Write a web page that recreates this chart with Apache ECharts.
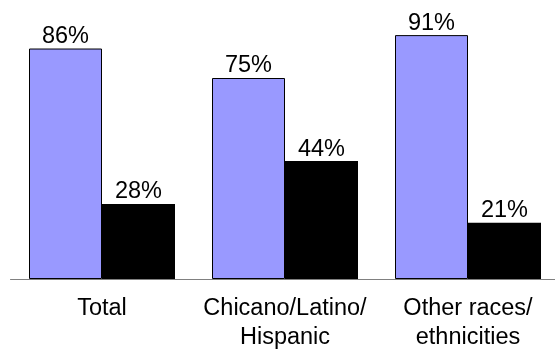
<!DOCTYPE html>
<html>
<head>
<meta charset="utf-8">
<script src="https://cdn.jsdelivr.net/npm/echarts@6/dist/echarts.min.js"></script>
<style>
  html, body { margin: 0; padding: 0; background: #fff; }
  #chart { width: 555px; height: 354px; }
</style>
</head>
<body>
<div id="chart"></div>
<script>
const categories = ['Total', 'Chicano/Latino/\nHispanic', 'Other races/\nethnicities'];
const purpleValues = [86, 75, 91];
const blackValues = [28, 44, 21];

const FONT = 'Liberation Sans, Arial, sans-serif';

const labelStyle = {
  show: true,
  position: 'top',
  distance: 0,
  formatter: '{c}%',
  color: '#000',
  fontSize: 23.5,
  fontFamily: FONT,
};

const chart = echarts.init(document.getElementById('chart'));
chart.setOption({
  animation: false,
  grid: { left: 10.5, top: 11, width: 549, bottom: 75, outerBoundsMode: 'none' },
  xAxis: {
    type: 'category',
    data: categories,
    axisLine: { lineStyle: { color: '#808080', width: 1 } },
    axisTick: { show: false },
    axisLabel: {
      color: '#000',
      fontSize: 23.5,
      fontFamily: FONT,
      lineHeight: 29,
      margin: 15,
      interval: 0,
    },
  },
  yAxis: {
    type: 'value',
    min: 0,
    max: 100,
    show: false,
  },
  series: [
    {
      name: 'purple',
      type: 'bar',
      data: purpleValues,
      barWidth: 73,
      barGap: 0,
      itemStyle: { color: '#9999FF', borderColor: '#000', borderWidth: 1 },
      label: labelStyle,
    },
    {
      name: 'black',
      type: 'bar',
      data: blackValues,
      barWidth: 73,
      itemStyle: { color: '#000' },
      label: labelStyle,
    },
  ],
});
</script>
</body>
</html>
